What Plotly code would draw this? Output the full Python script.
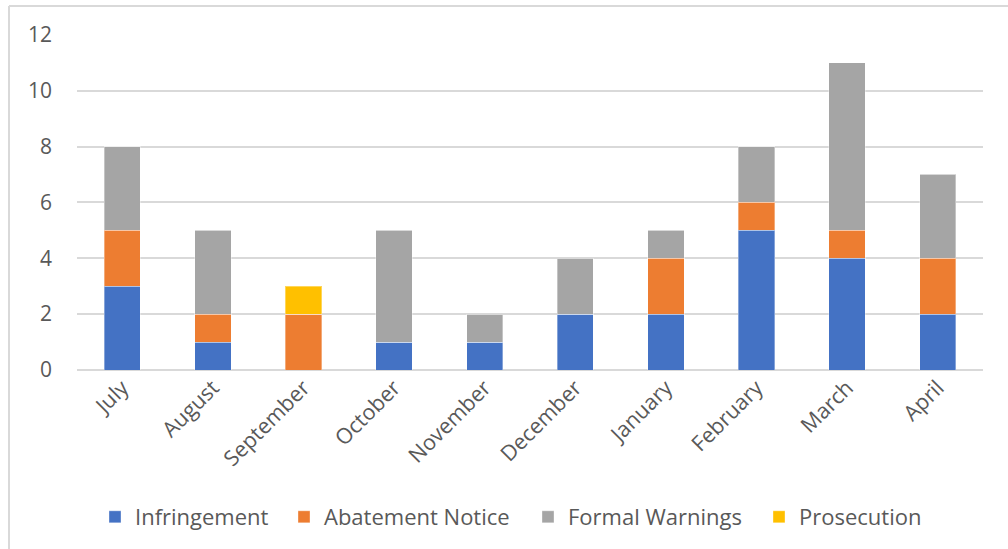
import plotly.graph_objects as go

months = ["July", "August", "September", "October", "November",
          "December", "January", "February", "March", "April"]
infringement = [3, 1, 0, 1, 1, 2, 2, 5, 4, 2]
abatement_notice = [2, 1, 2, 0, 0, 0, 2, 1, 1, 2]
formal_warnings = [3, 3, 0, 4, 1, 2, 1, 2, 6, 3]
prosecution = [0, 0, 1, 0, 0, 0, 0, 0, 0, 0]
y_ticks = [0, 2, 4, 6, 8, 10, 12]

series = [
    ("Infringement", infringement, "#4472C4"),
    ("Abatement Notice", abatement_notice, "#ED7D31"),
    ("Formal Warnings", formal_warnings, "#A5A5A5"),
    ("Prosecution", prosecution, "#FFC000"),
]

FONT = "Open Sans"
TEXT = "#595959"
GRID = "#D9D9D9"

W, H = 1008, 549
L, R, T, B = 77, 25, 34, 178
pw, ph = W - L - R, H - T - B

# Left pixel edge of each legend entry (one legend per series)
legend_left_px = [95, 284, 528, 759]
legend_ids = ["legend", "legend2", "legend3", "legend4"]

fig = go.Figure()
for (name, vals, color), lid in zip(series, legend_ids):
    fig.add_trace(go.Bar(
        x=months, y=vals, name=name, legend=lid, showlegend=True,
        marker=dict(color=color, line=dict(color="rgba(255,255,255,0.35)", width=1)),
    ))

legend_y = (T + ph - 517) / ph
legend_layout = {}
for lid, px in zip(legend_ids, legend_left_px):
    legend_layout[lid] = dict(
        x=(px - L) / pw, xanchor="left",
        y=legend_y, yanchor="middle",
        orientation="h",
        font=dict(family=FONT, size=22, color=TEXT),
        itemwidth=30,
        bgcolor="rgba(0,0,0,0)",
    )

fig.update_layout(
    width=W, height=H,
    margin=dict(l=L, r=R, t=T, b=B),
    barmode="stack",
    bargap=0.6,
    showlegend=True,
    plot_bgcolor="white",
    paper_bgcolor="white",
    font=dict(family=FONT, size=21, color=TEXT),
    xaxis=dict(
        tickangle=-45, showgrid=False, showline=False, ticks="",
        tickfont=dict(family=FONT, size=21.5, color=TEXT),
    ),
    yaxis=dict(
        range=[0, 12.03], tickvals=y_ticks, showgrid=True,
        gridcolor=GRID, gridwidth=2, zeroline=True, zerolinecolor=GRID,
        zerolinewidth=2, showline=False, ticks="",
        ticklabelstandoff=24,
        tickfont=dict(family=FONT, size=21, color=TEXT),
    ),
    **legend_layout,
)

# Chart-area border (left and top edges visible)
x_left = (9 - L) / pw
y_top = 1 + (T - 6) / ph
fig.add_shape(type="line", xref="paper", yref="paper",
              x0=x_left, x1=(W - L + 5) / pw, y0=y_top, y1=y_top,
              line=dict(color=GRID, width=2))
fig.add_shape(type="line", xref="paper", yref="paper",
              x0=x_left, x1=x_left, y0=y_top, y1=-(B + 5) / ph,
              line=dict(color=GRID, width=2))

fig.write_html("out.html")
